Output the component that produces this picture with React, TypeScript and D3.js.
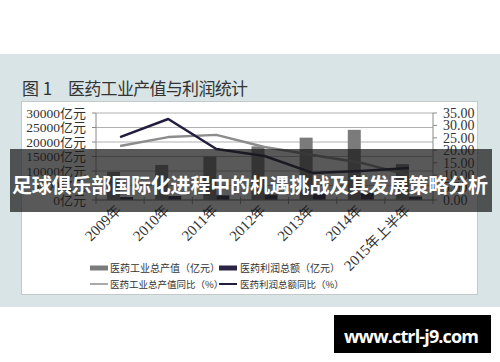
import React from 'react';
import * as d3 from 'd3';

const categories = ['2009年', '2010年', '2011年', '2012年', '2013年', '2014年', '2015年上半年'];
const outputValue = [9700, 12100, 15000, 18500, 21500, 24200, 12400];
const profitValue = [1000, 1400, 1600, 1900, 2200, 2400, 1200];
const outputYoY = [21.7, 25.3, 26.2, 21.3, 18.1, 15.0, 10.0];
const profitYoY = [25.3, 32.6, 20.5, 17.7, 10.9, 11.7, 12.9];
const leftTicks = [0, 5000, 10000, 15000, 20000, 25000, 30000];
const rightTicks = [0, 5, 10, 15, 20, 25, 30, 35];
const legendItems = ['医药工业总产值（亿元）', '医药利润总额（亿元）', '医药工业总产值同比（%）', '医药利润总额同比（%）'];

const PLOT_L = 96, PLOT_R = 433, PLOT_T = 113, PLOT_B = 200;
const GRAY_BAR = '#7b7b7b';
const DARK_BAR = '#2b2444';
const GRAY_LINE = '#8c8c8c';
const DARK_LINE = '#221d3c';
const TXT = '#333';
const NUM_FONT = '"Liberation Serif", "Noto Sans CJK SC", serif';
const CJK_FONT = '"Noto Sans CJK SC", sans-serif';

export default function App() {
  const x = d3.scaleBand<string>().domain(categories).range([PLOT_L, PLOT_R]).paddingInner(0).paddingOuter(0);
  const sub = d3.scaleBand<string>().domain(['output', 'profit']).range([0, x.bandwidth()]).paddingInner(0).paddingOuter(0.85);
  const yL = d3.scaleLinear().domain([0, 30000]).range([PLOT_B, PLOT_T]);
  const yR = d3.scaleLinear().domain([0, 35]).range([PLOT_B, PLOT_T]);
  const cx = (c: string) => (x(c) as number) + x.bandwidth() / 2;

  const lineGen = d3.line<number>().x((_, i) => cx(categories[i])).y((d) => yR(d));

  const boundaries = categories.map((c) => x(c) as number).concat([PLOT_R]);

  return (
    <svg width={500} height={362} style={{ position: 'absolute', left: 0, top: 0, background: '#fff' }}>
      {/* panel */}
      <rect x={0} y={54} width={500} height={253} fill="#d8e4e5" />
      <text x={22} y={95} fontFamily={CJK_FONT} fontSize={17} fill={TXT}>图 1</text>
      <text x={68} y={95} fontFamily={CJK_FONT} fontSize={17} fill={TXT} textLength={180}>医药工业产值与利润统计</text>
      {/* chart box */}
      <rect x={21.5} y={101.5} width={456} height={193} fill="#fff" stroke="#c4c8c8" strokeWidth={1} />

      {/* gridlines */}
      {leftTicks.map((t) => (
        <line key={'g' + t} x1={PLOT_L} x2={PLOT_R} y1={yL(t)} y2={yL(t)} stroke="#b0b0b0" strokeWidth={1} />
      ))}
      {/* left axis */}
      <line x1={PLOT_L} x2={PLOT_L} y1={PLOT_T} y2={PLOT_B} stroke="#8a8a8a" />
      {leftTicks.map((t) => (
        <g key={'l' + t}>
          <line x1={PLOT_L - 4} x2={PLOT_L} y1={yL(t)} y2={yL(t)} stroke="#8a8a8a" />
          <text x={86} y={yL(t)} dy="0.35em" textAnchor="end" fontFamily={NUM_FONT} fontSize={13.5} fill={TXT}>
            {t}<tspan fontFamily={CJK_FONT} fontSize={13}>亿元</tspan>
          </text>
        </g>
      ))}
      {/* right axis */}
      <line x1={PLOT_R} x2={PLOT_R} y1={PLOT_T} y2={PLOT_B} stroke="#8a8a8a" />
      {rightTicks.map((t) => (
        <g key={'r' + t}>
          <line x1={PLOT_R} x2={PLOT_R + 4} y1={yR(t)} y2={yR(t)} stroke="#8a8a8a" />
          <text x={443} y={yR(t)} dy="0.35em" fontFamily={NUM_FONT} fontSize={14} fill={TXT}>{t.toFixed(2)}</text>
        </g>
      ))}

      {/* bars */}
      {categories.map((c, i) => (
        <g key={'b' + c}>
          <rect x={(x(c) as number) + (sub('output') as number)} y={yL(outputValue[i])} width={sub.bandwidth()} height={PLOT_B - yL(outputValue[i])} fill={GRAY_BAR} />
          <rect x={(x(c) as number) + (sub('profit') as number)} y={yL(profitValue[i])} width={sub.bandwidth()} height={PLOT_B - yL(profitValue[i])} fill={DARK_BAR} />
        </g>
      ))}

      {/* x axis */}
      <line x1={PLOT_L} x2={PLOT_R} y1={PLOT_B} y2={PLOT_B} stroke="#8a8a8a" />
      {boundaries.map((b, i) => (
        <line key={'xt' + i} x1={b} x2={b} y1={PLOT_B - 3} y2={PLOT_B + 4} stroke="#8a8a8a" />
      ))}

      {/* lines */}
      <path d={lineGen(outputYoY) || ''} fill="none" stroke={GRAY_LINE} strokeWidth={2.5} strokeLinejoin="round" />
      <path d={lineGen(profitYoY) || ''} fill="none" stroke={DARK_LINE} strokeWidth={2.5} strokeLinejoin="round" />

      {/* x labels */}
      {categories.map((c) => (
        <text key={'xl' + c} transform={`translate(${cx(c) + 2},${PLOT_B + 11}) rotate(-45)`} textAnchor="end" fontFamily={NUM_FONT} fontSize={15} fill={TXT}>
          {c.replace(/年.*/, '')}<tspan fontFamily={CJK_FONT} fontSize={14}>{c.slice(4)}</tspan>
        </text>
      ))}

      {/* legend */}
      <rect x={90} y={265.5} width={18} height={5} fill={GRAY_BAR} />
      <text x={110} y={272} fontFamily={CJK_FONT} fontSize={10} fill={TXT}>{legendItems[0]}</text>
      <rect x={219} y={265.5} width={18} height={5} fill={DARK_BAR} />
      <text x={240} y={272} fontFamily={CJK_FONT} fontSize={10} fill={TXT}>{legendItems[1]}</text>
      <line x1={90} x2={108} y1={284} y2={284} stroke={GRAY_LINE} strokeWidth={1.5} />
      <text x={110} y={288} fontFamily={CJK_FONT} fontSize={9.5} fill={TXT}>{legendItems[2]}</text>
      <line x1={219} x2={237} y1={284} y2={284} stroke={DARK_LINE} strokeWidth={2} />
      <text x={240} y={288} fontFamily={CJK_FONT} fontSize={9.5} fill={TXT}>{legendItems[3]}</text>

      {/* banner overlay */}
      <rect x={10} y={149} width={482} height={63} fill="rgba(25,25,25,0.72)" />
      <text x={250} y={186} dy="0.35em" textAnchor="middle" fontFamily={CJK_FONT} fontWeight={700} fontSize={20} fill="#fff" textLength={476}>
        足球俱乐部国际化进程中的机遇挑战及其发展策略分析
      </text>

      {/* watermark */}
      <rect x={334} y={315} width={157} height={38} fill="#000" />
      <text x={344} y={343} fontFamily='"Open Sans", sans-serif' fontWeight={700} fontSize={18} fill="#fff" textLength={135}>www.ctrl-j9.com</text>
    </svg>
  );
}
